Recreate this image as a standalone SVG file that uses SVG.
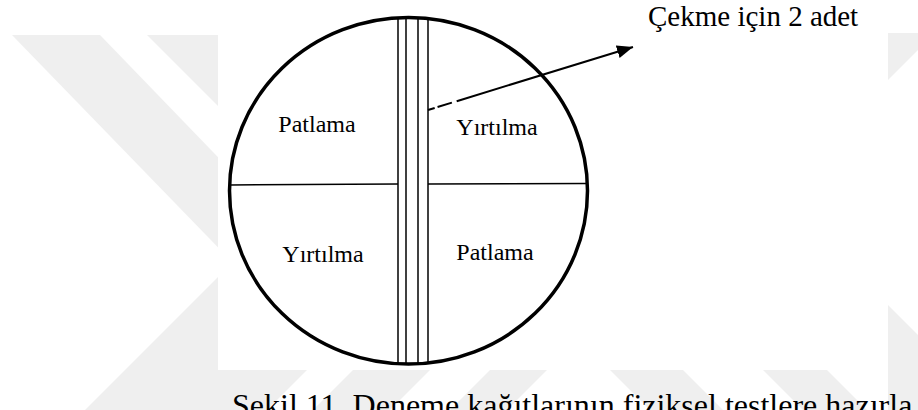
<svg xmlns="http://www.w3.org/2000/svg" width="918" height="410" viewBox="0 0 918 410">
<defs>
<style>
.wm{fill:#efefef;stroke:none}
.rim{fill:none;stroke:#000;stroke-width:3.5}
.thin{stroke:#000;stroke-width:1.5;fill:none}
.lbl{font-family:"Liberation Serif","Times New Roman",serif;font-size:24px;fill:#000;text-anchor:middle}
.big{font-family:"Liberation Serif","Times New Roman",serif;fill:#000}
.conn{stroke:#000;stroke-width:2;fill:none}
</style>
<marker id="ah" markerUnits="userSpaceOnUse" markerWidth="17" markerHeight="13" refX="16" refY="6.5" orient="auto">
<path d="M0,0 L16,6.5 L0,13 z" fill="#000"/>
</marker>
</defs>
<rect width="918" height="410" fill="#fff"/>
<g id="watermark">
<polygon class="wm" points="12,35 100,35 240,180 240,270"/>
<polygon class="wm" points="147,35 235,35 235,123"/>
<polygon class="wm" points="240,255 422,255 267,410 85,410"/>
<polygon class="wm" points="353,370 430,370 390,410 313,410"/>
<polygon class="wm" points="490,370 547,370 507,410 450,410"/>
<polygon class="wm" points="610,370 683,370 723,410 650,410"/>
<polygon class="wm" points="763,370 827,370 867,410 803,410"/>
<polygon class="wm" points="888,33 918,33 918,50 888,80"/>
<polygon class="wm" points="888,305 918,335 918,410 888,410"/>
</g>
<rect id="figure-bg" x="218" y="0" width="670" height="370" fill="#fff"/>
<g id="disc">
<line class="thin" x1="398" y1="18" x2="398" y2="364"/>
<line class="thin" x1="406" y1="18" x2="406" y2="364"/>
<line class="thin" x1="418" y1="18" x2="418" y2="364"/>
<line class="thin" x1="428" y1="18" x2="428" y2="364"/>
<line class="thin" x1="230" y1="185" x2="398" y2="184"/>
<line class="thin" x1="428" y1="184" x2="587" y2="183.5"/>
<ellipse class="rim" cx="408.5" cy="190.8" rx="179" ry="173.3"/>
</g>
<g id="q1"><text class="lbl" x="317" y="131.5">Patlama</text></g>
<g id="q2"><text class="lbl" x="497" y="135">Yırtılma</text></g>
<g id="q3"><text class="lbl" x="323" y="262">Yırtılma</text></g>
<g id="q4"><text class="lbl" x="495" y="260">Patlama</text></g>
<g id="note"><text class="big" x="648" y="26" font-size="29">Çekme için 2 adet</text></g>
<g id="connectors">
<path class="conn" d="M428,110 L633,47" stroke-dasharray="7 3 15 5 300" marker-end="url(#ah)"/>
</g>
<g id="caption"><text class="big" x="232" y="416" font-size="32">Şekil 11. Deneme kağıtlarının fiziksel testlere hazırla</text></g>
</svg>
